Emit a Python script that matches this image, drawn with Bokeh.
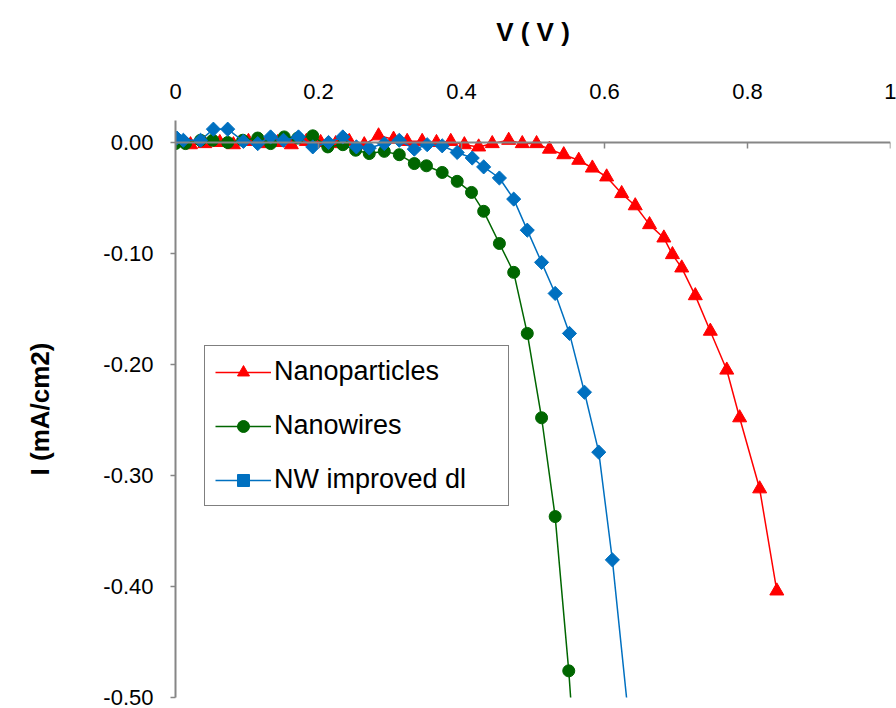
import numpy as np
from bokeh.plotting import figure
from bokeh.models import Range1d, FixedTicker, Legend, LegendItem, LinearAxis
from bokeh.embed import file_html
from bokeh.resources import INLINE

# ---------------- data ----------------
np_v = [0.000, 0.021, 0.041, 0.062, 0.081, 0.102, 0.122, 0.143, 0.162, 0.183,
        0.203, 0.224, 0.243, 0.264, 0.284, 0.305, 0.324, 0.345, 0.365, 0.385,
        0.404, 0.424, 0.443, 0.466, 0.485, 0.505, 0.523, 0.543, 0.564, 0.583,
        0.603, 0.624, 0.643, 0.663, 0.683, 0.695, 0.708, 0.727, 0.748, 0.771,
        0.789, 0.817, 0.841]
np_i = [0.000, -0.002, -0.001, 0.000, -0.002, 0.001, -0.001, 0.000, -0.002, 0.001,
        0.000, -0.001, 0.001, -0.002, 0.006, 0.003, 0.001, 0.001, 0.000, 0.001,
        -0.002, -0.004, -0.001, 0.002, -0.001, -0.001, -0.006, -0.011, -0.016, -0.023,
        -0.031, -0.046, -0.057, -0.074, -0.086, -0.101, -0.113, -0.138, -0.170, -0.205,
        -0.248, -0.312, -0.404]

nw_v = [0.000, 0.014, 0.035, 0.052, 0.073, 0.094, 0.115, 0.133, 0.152, 0.171,
        0.192, 0.213, 0.234, 0.252, 0.271, 0.292, 0.313, 0.334, 0.351, 0.373,
        0.394, 0.414, 0.431, 0.453, 0.473, 0.492, 0.512, 0.531, 0.550, 0.568]
nw_i = [-0.001, -0.001, 0.002, 0.002, 0.000, 0.002, 0.004, -0.001, 0.005, 0.004,
        0.006, -0.004, -0.002, -0.007, -0.010, -0.008, -0.011, -0.019, -0.021, -0.027,
        -0.035, -0.045, -0.062, -0.091, -0.117, -0.172, -0.248, -0.337, -0.476, -0.640]

dl_v = [0.002, 0.011, 0.035, 0.053, 0.073, 0.095, 0.115, 0.133, 0.151, 0.172,
        0.192, 0.214, 0.234, 0.253, 0.271, 0.292, 0.313, 0.334, 0.352, 0.373,
        0.394, 0.415, 0.431, 0.453, 0.473, 0.492, 0.512, 0.531, 0.551, 0.572,
        0.592, 0.611, 0.634]
dl_i = [0.004, 0.002, 0.002, 0.012, 0.012, 0.001, -0.001, 0.005, 0.002, 0.005,
        -0.004, 0.000, 0.005, -0.004, -0.005, -0.001, 0.002, -0.006, -0.002, -0.003,
        -0.009, -0.014, -0.022, -0.032, -0.051, -0.079, -0.108, -0.136, -0.172, -0.225,
        -0.279, -0.376, -0.520]

series_names = ["Nanoparticles", "Nanowires", "NW improved dl"]
series_colors = ["#FF0000", "#006600", "#0070C0"]

x_ticks = [0, 0.2, 0.4, 0.6, 0.8, 1]
x_tick_labels = ["0", "0.2", "0.4", "0.6", "0.8", "1"]
y_ticks = [0, -0.1, -0.2, -0.3, -0.4, -0.5]
y_tick_labels = ["0.00", "-0.10", "-0.20", "-0.30", "-0.40", "-0.50"]

FONT = "Liberation Sans"
AXIS_GRAY = "#868686"

# ---------------- figure ----------------
p = figure(width=896, height=708, output_backend="svg", toolbar_location=None,
           x_range=Range1d(0, 1), y_range=Range1d(-0.5, 0.0198),
           x_axis_location="above",
           min_border_left=175, min_border_right=6,
           min_border_top=120, min_border_bottom=11)
p.outline_line_color = None
p.background_fill_color = "white"
p.border_fill_color = "white"
p.xgrid.visible = False
p.ygrid.visible = False

# top axis: tick labels and title (line/ticks hidden)
xa = p.xaxis[0]
xa.ticker = FixedTicker(ticks=x_ticks)
xa.major_label_overrides = dict(zip(x_ticks, x_tick_labels))
xa.axis_line_color = None
xa.major_tick_line_color = None
xa.minor_tick_line_color = None
xa.major_tick_in = 0
xa.major_tick_out = 0
xa.major_label_standoff = 22
xa.major_label_text_font = FONT
xa.major_label_text_font_size = "22px"
xa.major_label_text_color = "black"
xa.axis_label = "V ( V )"
xa.axis_label_text_font = FONT
xa.axis_label_text_font_size = "26px"
xa.axis_label_text_font_style = "bold"
xa.axis_label_text_color = "black"
xa.axis_label_standoff = 34

# axis line and tick marks along I = 0
x0 = LinearAxis(fixed_location=0, bounds=(0, 1),
                ticker=FixedTicker(ticks=x_ticks),
                major_label_overrides=dict(zip(x_ticks, x_tick_labels)),
                axis_line_color=AXIS_GRAY, axis_line_width=2,
                major_tick_line_color=AXIS_GRAY, major_tick_line_width=1.5,
                major_tick_in=6, major_tick_out=0,
                minor_tick_line_color=None,
                major_label_text_font=FONT, major_label_text_font_size="22px",
                major_label_standoff=44)
p.add_layout(x0, "above")

ya = p.yaxis[0]
ya.ticker = FixedTicker(ticks=y_ticks)
ya.major_label_overrides = dict(zip(y_ticks, y_tick_labels))
ya.bounds = (-0.5, 0.02)
ya.axis_line_color = AXIS_GRAY
ya.axis_line_width = 2
ya.major_tick_line_color = AXIS_GRAY
ya.major_tick_line_width = 1.5
ya.major_tick_in = 0
ya.major_tick_out = 5
ya.minor_tick_line_color = None
ya.major_label_standoff = 17
ya.major_label_text_font = FONT
ya.major_label_text_font_size = "22px"
ya.major_label_text_color = "black"
ya.axis_label = "I (mA/cm2)"
ya.axis_label_text_font = FONT
ya.axis_label_text_font_size = "26px"
ya.axis_label_text_font_style = "bold"
ya.axis_label_text_color = "black"
ya.axis_label_standoff = 45

# ---------------- series ----------------
items = []
specs = [
    (np_v, np_i, "triangle", 14, 0),
    (nw_v, nw_i, "circle", 12, 0),
    (dl_v, dl_i, "square", 10, np.pi / 4),
]
for (v, i, marker, size, ang), name, col in zip(specs, series_names, series_colors):
    lr = p.line(v, i, line_color=col, line_width=1.5)
    sr = p.scatter(v, i, marker=marker, size=size, angle=ang,
                   fill_color=col, line_color=col)
    items.append(LegendItem(label=name, renderers=[lr, sr]))

legend = Legend(items=items, location=(29, 191),
                border_line_color="black", border_line_width=1.2,
                background_fill_color="white", background_fill_alpha=1,
                label_text_font=FONT, label_text_font_size="27px",
                label_text_color="black",
                glyph_width=56, glyph_height=30, label_height=30,
                label_width=224,
                label_standoff=3, spacing=23, padding=10, margin=0)
p.add_layout(legend, "center")

open("out.html", "w").write(file_html(p, INLINE))
